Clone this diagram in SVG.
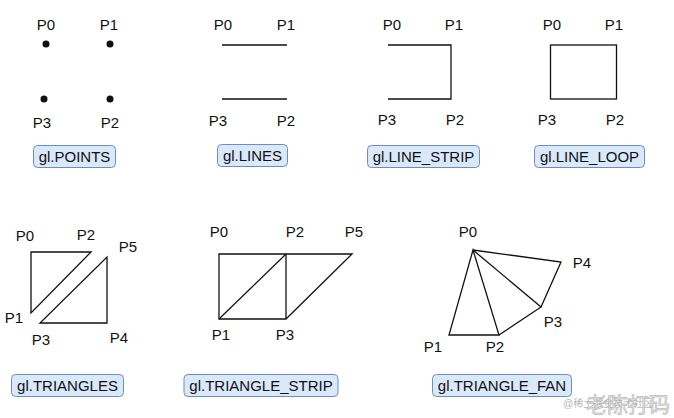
<svg xmlns="http://www.w3.org/2000/svg" width="674" height="418" viewBox="0 0 674 418">
<style>
text{font-family:"Liberation Sans",Arial,sans-serif;font-size:15px;fill:#111;text-anchor:middle}
.shape{fill:none;stroke:#111;stroke-width:1.3;stroke-linejoin:miter}
.lbl{fill:#dae8fc;stroke:#6c8ebf;stroke-width:1}
.dot{fill:#111}
.wm{font-family:"Liberation Sans","Noto Sans CJK SC",sans-serif;text-anchor:start}
</style>
<rect width="674" height="418" fill="#fff"/>
<g id="points">
<text x="46" y="30">P0</text><text x="109" y="30">P1</text>
<circle class="dot" cx="46" cy="44" r="3.5"/><circle class="dot" cx="110" cy="44" r="3.5"/>
<circle class="dot" cx="44" cy="99" r="3.5"/><circle class="dot" cx="110" cy="99" r="3.5"/>
<text x="42" y="128">P3</text><text x="110" y="128">P2</text>
<rect class="lbl" x="33.5" y="145.5" width="82" height="22" rx="4"/>
<text x="74.5" y="162">gl.POINTS</text>
</g>
<g id="lines">
<text x="223" y="30">P0</text><text x="286" y="30">P1</text>
<line class="shape" x1="222" y1="45" x2="287" y2="45"/>
<line class="shape" x1="222" y1="99" x2="287" y2="99"/>
<text x="218" y="126">P3</text><text x="286" y="126">P2</text>
<rect class="lbl" x="217.5" y="144.5" width="70" height="22" rx="4"/>
<text x="252.5" y="161">gl.LINES</text>
</g>
<g id="line_strip">
<text x="392" y="30">P0</text><text x="454" y="30">P1</text>
<polyline class="shape" points="388,45 451,45 451,99 388,99"/>
<text x="387" y="125">P3</text><text x="455" y="125">P2</text>
<rect class="lbl" x="367.5" y="145.5" width="112" height="22" rx="4"/>
<text x="423.5" y="162">gl.LINE_STRIP</text>
</g>
<g id="line_loop">
<text x="552" y="30">P0</text><text x="614" y="30">P1</text>
<rect class="shape" x="550.5" y="45" width="66" height="54"/>
<text x="547" y="125">P3</text><text x="615" y="125">P2</text>
<rect class="lbl" x="534.5" y="145.5" width="110" height="22" rx="4"/>
<text x="589.5" y="162">gl.LINE_LOOP</text>
</g>
<g id="triangles">
<text x="25" y="241">P0</text><text x="86" y="240">P2</text><text x="128" y="252">P5</text>
<polygon class="shape" points="31,252 91,252 31,313"/>
<polygon class="shape" points="107,257 107,323 40,323"/>
<text x="14" y="323">P1</text><text x="41" y="345">P3</text><text x="119" y="343">P4</text>
<rect class="lbl" x="11.5" y="374.5" width="112" height="22" rx="4"/>
<text x="67.5" y="391">gl.TRIANGLES</text>
</g>
<g id="triangle_strip">
<text x="219" y="237">P0</text><text x="295" y="237">P2</text><text x="354" y="237">P5</text>
<polyline class="shape" points="286,254 219,254 219,319 286,319 286,254 352,254 286,319"/>
<line class="shape" x1="219" y1="319" x2="286" y2="254"/>
<text x="221" y="340">P1</text><text x="285" y="340">P3</text>
<rect class="lbl" x="184" y="374.5" width="154" height="22" rx="4"/>
<text x="261" y="391">gl.TRIANGLE_STRIP</text>
</g>
<g id="triangle_fan">
<text x="468" y="237">P0</text><text x="582" y="268">P4</text><text x="553" y="327">P3</text><text x="495" y="352">P2</text><text x="433" y="352">P1</text>
<polygon class="shape" points="473,250 449,335 499,335"/>
<polyline class="shape" points="499,335 541,307 473,250"/>
<polyline class="shape" points="541,307 561,262 473,250"/>
<rect class="lbl" x="432.5" y="374.5" width="139" height="22" rx="4"/>
<text x="502" y="391">gl.TRIANGLE_FAN</text>
</g>
<g id="watermark">
<text class="wm" x="563" y="407" style="font-size:10px;fill:#b8b8b8">@稀土掘金技术社区</text>
<text class="wm" x="586" y="412" style="font-size:21px;fill:#e6e6e6;stroke:#a8a8a8;stroke-width:0.5">老陈打码</text>
</g>
</svg>
